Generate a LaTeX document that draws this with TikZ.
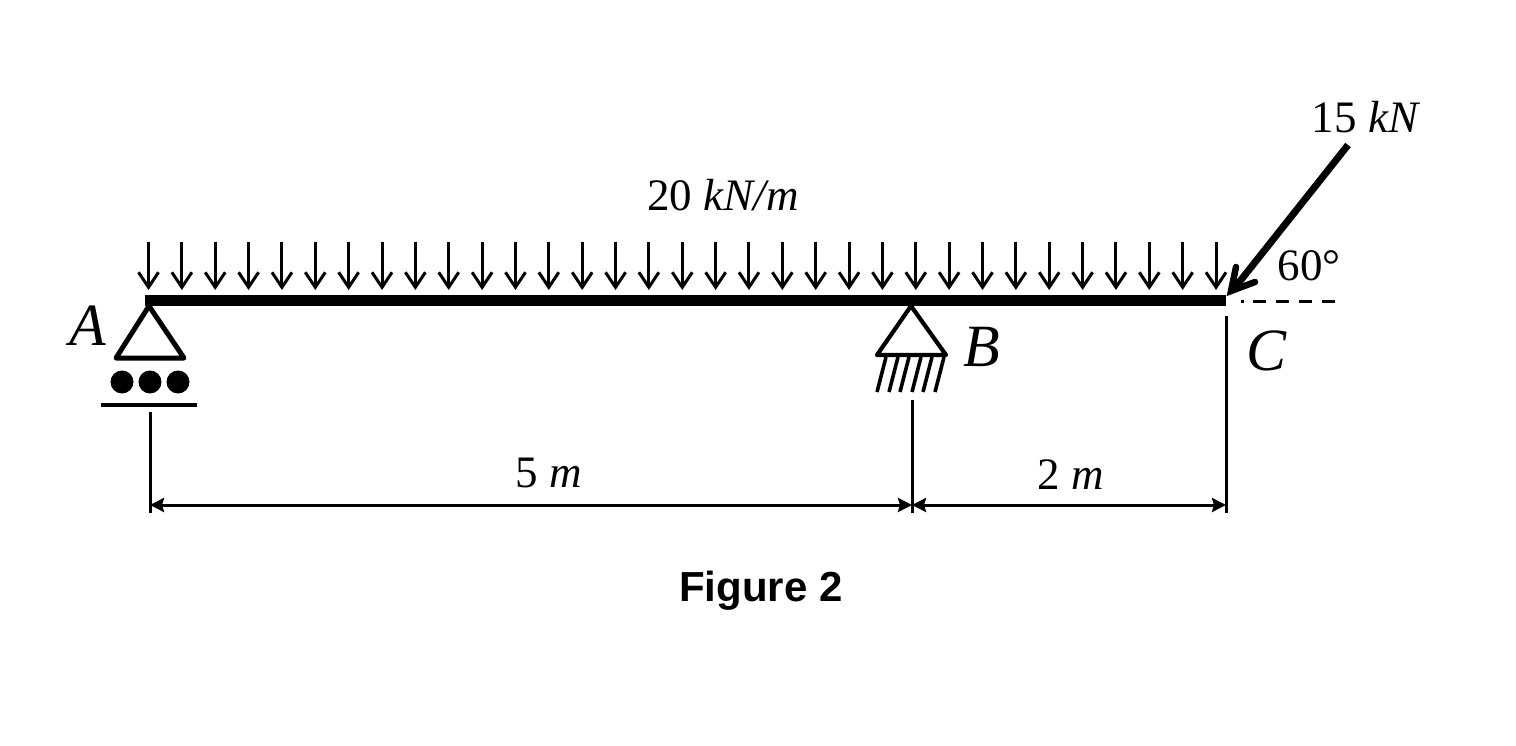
\documentclass[tikz,border=0pt]{standalone}
\usepackage{fontspec}
\setmainfont{Liberation Serif}
\setsansfont{Liberation Sans}
\usetikzlibrary{arrows.meta}
\tikzset{
  x=1pt,y=-1pt,
  loadarrow/.style={line width=3pt,-{Straight Barb[length=15pt,width=20pt,line width=3pt]}},
  forceline/.style={line width=7pt},
  forcehead/.style={line width=6.5pt,line cap=round,miter limit=10},
  dimarrow/.style={line width=3pt,{Stealth[length=14pt,width=14pt,inset=2pt]}-{Stealth[length=14pt,width=14pt,inset=2pt]}},
  extline/.style={line width=3pt},
  support/.style={line width=5pt,line join=round,line cap=round},
  lbl/.style={font=\fontsize{45}{45}\selectfont,inner sep=0pt},
  letter/.style={font=\fontsize{60}{60}\selectfont\itshape,inner sep=0pt},
}
\begin{document}
\begin{tikzpicture}
\useasboundingbox (0,0) rectangle (1516,746);
% named points
\coordinate (beamL) at (145,300);
\coordinate (beamR) at (1226,300);
\coordinate (dimA) at (150,505);
\coordinate (dimB) at (912,505);
\coordinate (dimC) at (1226,505);
\coordinate (forceS) at (1348,145);
\coordinate (forceE) at (1233,290);
\coordinate (barbA) at (1236,267);
\coordinate (tipF) at (1231,291);
\coordinate (barbB) at (1255,282);
% beam
\draw[line width=11pt] (beamL) -- (beamR);
% distributed load
\foreach \i in {0,...,32} {
  \draw[loadarrow] ({148.5+\i*33.36},242) -- ({148.5+\i*33.36},290);
}
% support A
\draw[support] (149,306) -- (116,358) -- (184,358) -- cycle;
\foreach \cx in {122,150,178} \fill (\cx,382) circle (11.5);
\draw[line width=4.5pt] (101,405) -- (197,405);
% support B
\draw[support,line width=4.2pt] (911,306) -- (877,355) -- (946,355) -- cycle;
\foreach \bx in {877,889,900,912,923,935}
  \draw[line width=3.6pt] (\bx+9,357) -- (\bx,392);
% dimension
\draw[extline] (150,412) -- (150,513);
\draw[extline] (912,400) -- (912,513);
\draw[extline] (1226,316) -- (1226,513);
\draw[dimarrow] (dimA) -- (dimB);
\draw[dimarrow] (dimB) -- (dimC);
% force
\draw[forceline] (forceS) -- (forceE);
\draw[forcehead] (barbA) -- (tipF) -- (barbB);
\draw[line width=3pt,dash pattern=on 3pt off 9pt on 13pt off 10pt on 13pt off 10pt on 13pt off 10pt on 13pt off 10pt] (1241,301) -- (1336,301);
% labels
\node[letter] (lA) at (88,326) {A};
\node[letter] (lB) at (982,347) {B};
\node[letter] (lC) at (1266,351) {C};
\node[lbl] (l60) at (1309,266) {60°};
\node[lbl] (l15) at (1366,117) {15 \textit{kN}};
\node[lbl] (l20) at (723,195) {20 \textit{kN/m}};
\node[lbl] (l5) at (549,473) {5 \textit{m}};
\node[lbl] (l2) at (1071,475) {2 \textit{m}};
\node[font=\fontsize{42}{42}\selectfont\sffamily\bfseries,inner sep=0pt] (fig) at (761,591) {Figure 2};
\end{tikzpicture}
\end{document}
